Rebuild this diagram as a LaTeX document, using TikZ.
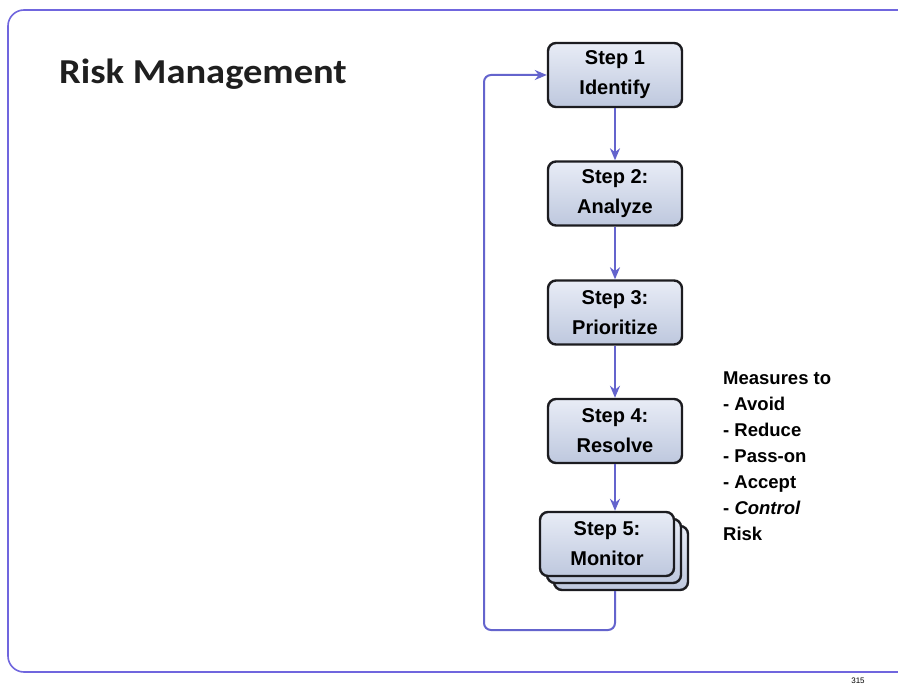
\documentclass[tikz,border=0pt]{standalone}
\usepackage{fontspec}
\setmainfont{Liberation Sans}
\newfontfamily\titlefont{Carlito}
\usetikzlibrary{arrows.meta}
\definecolor{framecol}{RGB}{112,102,222}
\definecolor{arrowcol}{RGB}{100,100,205}
\definecolor{boxtop}{RGB}{232,236,246}
\definecolor{boxbot}{RGB}{190,200,222}
\definecolor{boxline}{RGB}{28,28,32}
\tikzset{
  stepbox/.style={draw=boxline, line width=2.4pt, rounded corners=8pt,
    top color=boxtop, bottom color=boxbot, minimum width=134pt, minimum height=64pt,
    inner sep=0pt, align=center, font=\fontsize{20}{30}\selectfont\bfseries},
  flow/.style={draw=arrowcol, line width=2pt, -{Stealth[length=12pt,width=10pt]}},
  loopline/.style={draw=arrowcol, line width=2pt, rounded corners=7pt, -{Stealth[length=12pt,width=10pt]}},
  measures/.style={align=left, anchor=north west, inner sep=0pt, font=\fontsize{18.5}{26}\selectfont\bfseries}
}
\begin{document}
\begin{tikzpicture}[x=1pt,y=-1pt]
\useasboundingbox (0,0) rectangle (898,687);
\fill[white] (0,0) rectangle (898,687);
\clip (0,0) rectangle (898,687);
\draw[framecol, line width=1.6pt, rounded corners=16pt] (8,10) rectangle (1000,672);
\node[anchor=base west, inner sep=0pt, font=\titlefont\fontsize{35}{40}\selectfont\bfseries, text=black!88] (title) at (59,84) {\scalebox{1.1}[1]{Risk Management}};
\node[stepbox] (s1) at (615,75) {Step 1\\Identify};
\node[stepbox] (s2) at (615,193.5) {Step 2:\\Analyze};
\node[stepbox] (s3) at (615,312.5) {Step 3:\\Prioritize};
\node[stepbox] (s4) at (615,431) {Step 4:\\Resolve};
\node[stepbox] (s5c) at (621,558) {};
\node[stepbox] (s5b) at (614,551) {};
\node[stepbox] (s5) at (607,544) {Step 5:\\Monitor};
\draw[flow] (s1) -- (s2);
\draw[flow] (s2) -- (s3);
\draw[flow] (s3) -- (s4);
\draw[flow] (s4.south) -- (s4.south |- s5.north);
\coordinate (loopbl) at (484,630);
\draw[loopline] (s5c.south -| s4.south) |- (loopbl) |- (s1.west);
\node[measures] (meas) at (723,372) {Measures to\\- Avoid\\- Reduce\\- Pass-on\\- Accept\\- \textit{Control}\\Risk};
\node[anchor=base, inner sep=0pt, font=\fontsize{8}{9}\selectfont] (pg) at (858,683) {315};
\end{tikzpicture}
\end{document}
